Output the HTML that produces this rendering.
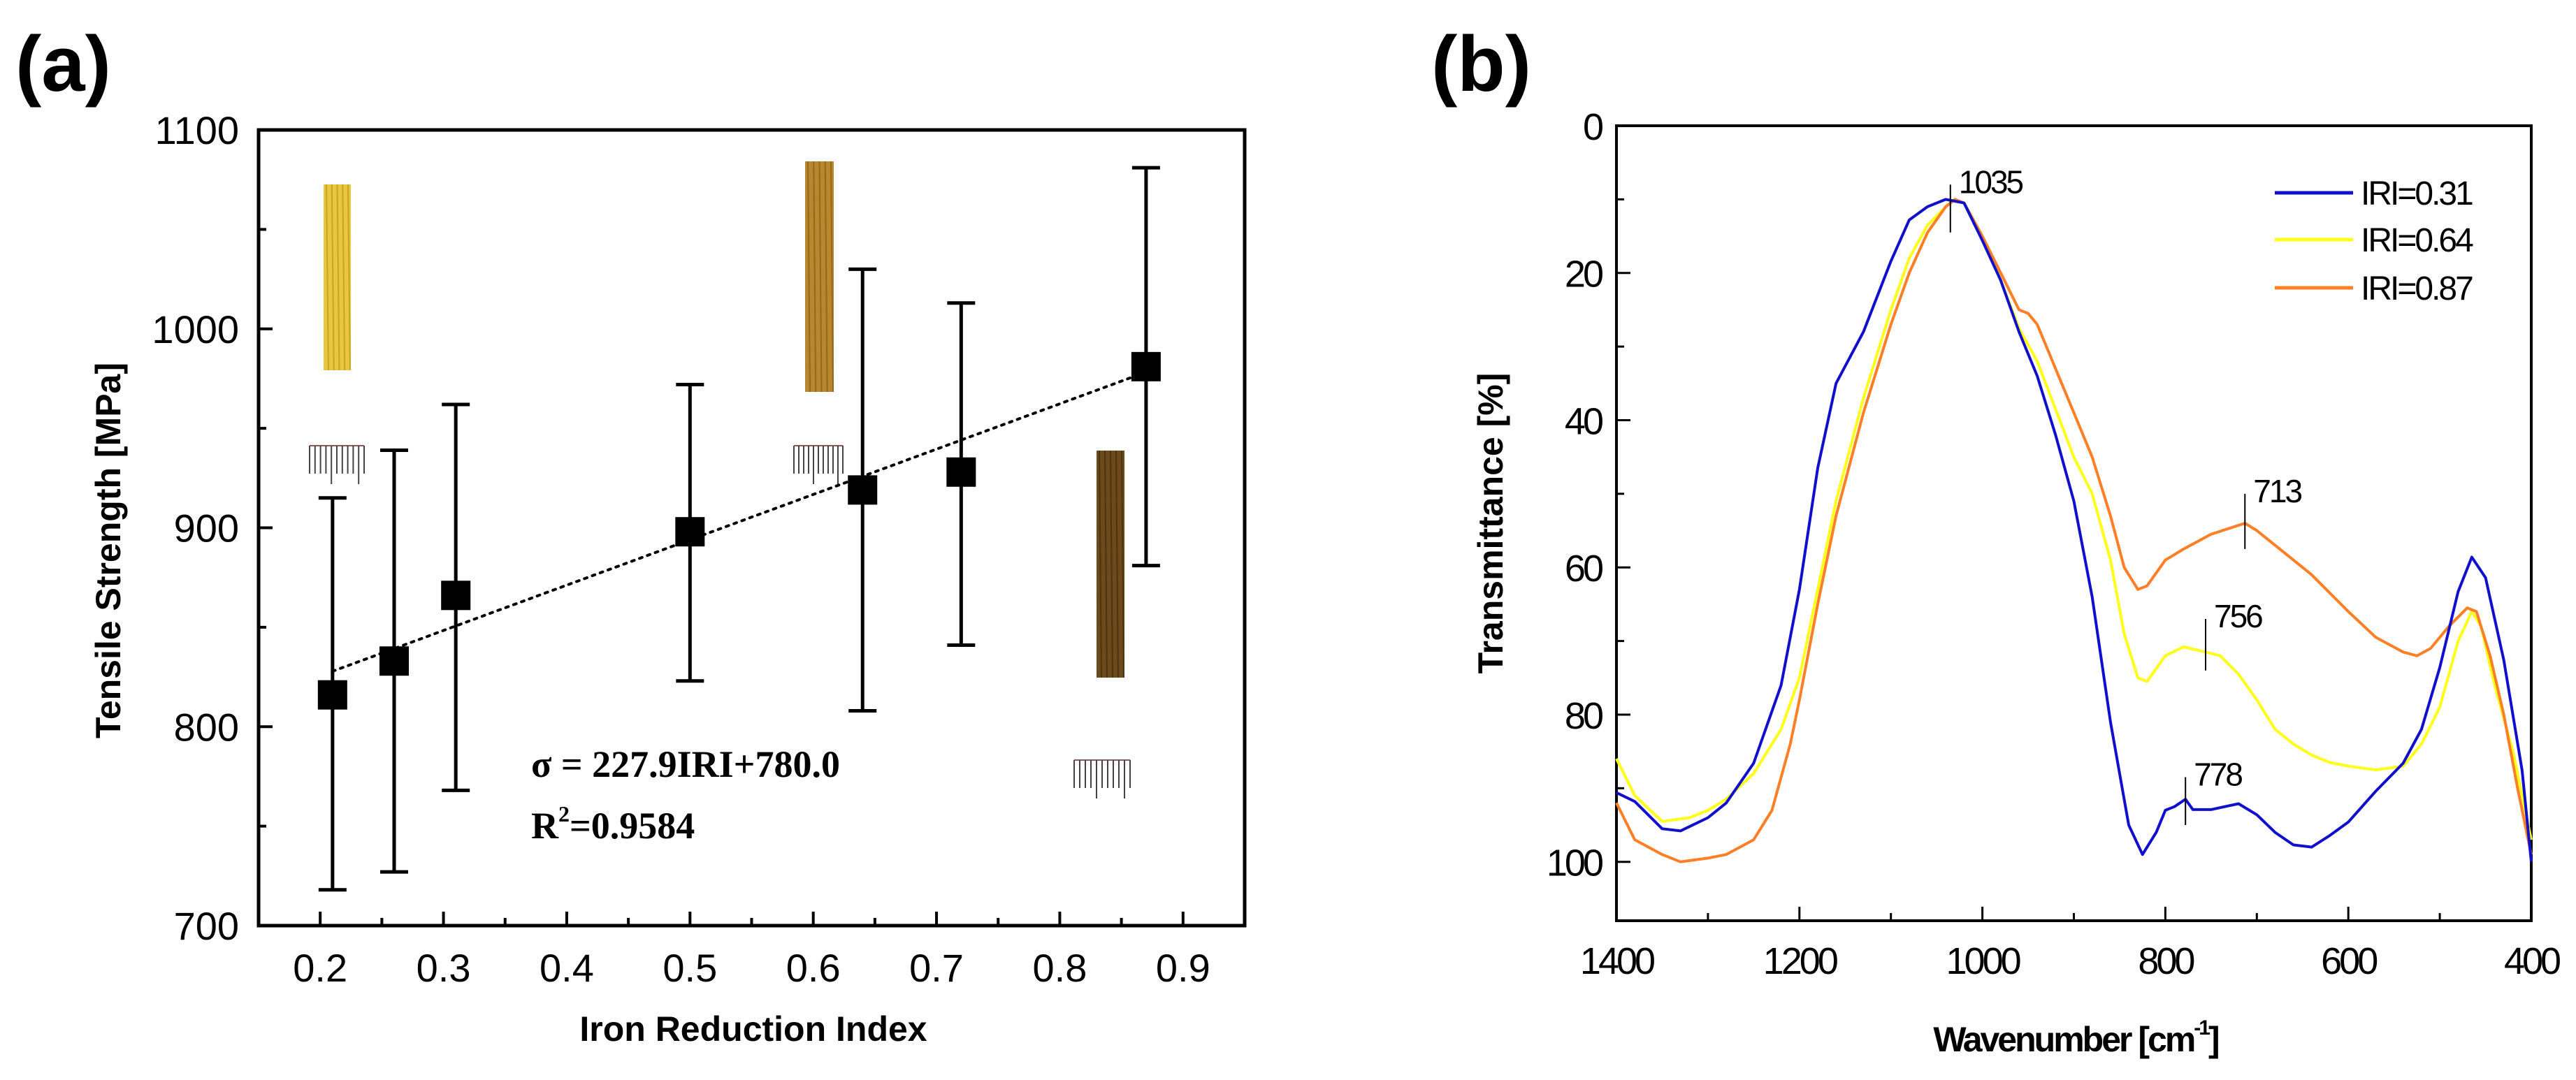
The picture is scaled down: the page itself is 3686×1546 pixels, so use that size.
<!DOCTYPE html>
<html><head><meta charset="utf-8"><style>
html,body{margin:0;padding:0;background:#fff;}
svg{display:block;}
</style></head><body>
<svg id="fig" width="3686" height="1546" viewBox="0 0 3686 1546" xmlns="http://www.w3.org/2000/svg">
<text x="22" y="130" font-family="Liberation Sans, sans-serif" font-weight="bold" font-size="112">(a)</text>
<text x="2048" y="130" font-family="Liberation Sans, sans-serif" font-weight="bold" font-size="112">(b)</text>
<g id="pa"></g>
<g id="pb"></g>
</svg>
<script>
// ---------- Panel (a) data ----------
const iriValues = [0.21, 0.26, 0.31, 0.5, 0.64, 0.72, 0.87];
const strengthValues = [816, 833, 866, 898, 919, 928, 981];
const errUpper = [915, 939, 962, 972, 1030, 1013, 1081];
const errLower = [718, 727, 768, 823, 808, 841, 881];
const fitSlope = 227.9, fitIntercept = 780.0;
const aXTicks = [0.2, 0.3, 0.4, 0.5, 0.6, 0.7, 0.8, 0.9];
const aYTicks = [700, 800, 900, 1000, 1100];

// ---------- Panel (b) data ----------
const waveBlue = [1400,1380,1350,1330,1300,1280,1250,1220,1200,1180,1160,1130,1100,1080,1060,1040,1020,1000,980,960,940,920,900,880,860,840,825,810,800,790,778,770,750,720,700,680,660,640,620,600,570,540,520,500,480,465,450,430,410,400];
const transBlue = [90.6,91.8,95.5,95.8,94,92,86.6,76,63,46.5,35,28,18.4,12.8,11,10,10.5,15.6,21,28,34,42,51,64,81,95,99,96,93,92.5,91.5,92.9,92.9,92.1,93.6,96,97.7,98,96.4,94.6,90.4,86.6,82,73.6,63.3,58.6,61.4,72.6,87.6,100];
const waveYellow = [1400,1380,1350,1320,1300,1280,1250,1220,1200,1180,1160,1130,1100,1080,1060,1040,1030,1020,1000,980,960,940,920,900,880,860,845,830,820,800,780,756,740,720,700,680,660,640,620,600,570,540,520,500,480,465,455,440,420,400];
const transYellow = [86,91,94.5,94,93,91.5,88,82,75,63,51,37,25,18,13.5,11,10,10.5,15,21,27.5,32,38.5,45,50,59,69,75,75.5,72,70.8,71.5,72,74.5,78,82,84,85.5,86.5,87,87.5,87,84,79,70,66,68,76,85,97];
const waveOrange = [1400,1380,1350,1330,1300,1280,1250,1230,1210,1200,1180,1160,1130,1100,1080,1060,1040,1030,1020,1000,980,960,950,940,920,900,880,860,845,830,820,800,780,750,713,700,680,660,640,620,600,570,540,525,510,490,470,460,445,430,415,400];
const transOrange = [92,97,99,100,99.5,99,97,93,84,78,65,53,39,27,20,14.5,11,10,10.5,15,20,25,25.5,27,33,39,45,53,60,63,62.5,59,57.5,55.5,54,55,57,59,61,63.5,66,69.5,71.5,72,71,68,65.5,66,72,80,90,99];
const peakWaves = [1035, 713, 756, 778];
const peakLow = [8, 50, 67, 88.5];
const peakHigh = [14.5, 57.5, 74, 95];
const seriesLabels = ["IRI=0.31", "IRI=0.64", "IRI=0.87"];
const bXTicks = [1400, 1200, 1000, 800, 600, 400];
const bYTicks = [0, 20, 40, 60, 80, 100];

const NS = "http://www.w3.org/2000/svg";
function mk(parent, tag, attrs, txt) {
  const e = document.createElementNS(NS, tag);
  for (const k in attrs) e.setAttribute(k, attrs[k]);
  if (txt !== undefined) e.textContent = txt;
  parent.appendChild(e);
  return e;
}
const SANS = "Liberation Sans, sans-serif";

// ================= Panel A =================
const pa = document.getElementById('pa');
const aL = 370, aR = 1781, aT = 186, aB = 1325;
const ax = v => aL + (v - 0.15) / (0.95 - 0.15) * (aR - aL);
const ay = v => aB - (v - 700) / (1100 - 700) * (aB - aT);

function fibre(x, y, w, h, c1, c2, name) {
  const g = mk(pa, 'g', {});
  
  
  mk(g, 'rect', {x: x, y: y, width: w, height: h, fill: c1});
  for (let i = 0; i < 5; i++) mk(g, 'line', {x1: x + 4 + i * (w - 8) / 4, y1: y, x2: x + 4 + i * (w - 8) / 4 + 3, y2: y + h, stroke: c2, 'stroke-width': 2, opacity: 0.6});
}
fibre(463, 264, 39, 266, '#e8c640', '#b58f10', 'fibre-image-1');
fibre(1152, 231, 41, 330, '#b8862e', '#7a5510', 'fibre-image-2');
fibre(1569, 645, 40, 325, '#6b4a1c', '#3a2508', 'fibre-image-3');
function scalebar(x, y, w, name) {
  const g = mk(pa, 'g', {});
  
  
  mk(g, 'line', {x1: x, y1: y, x2: x + w, y2: y, stroke: '#8a5a5a', 'stroke-width': 2});
  for (let i = 0; i <= 10; i++) {
    const xx = x + i * w / 10;
    const len = (i === 4 || i === 9) ? 55 : 40;
    mk(g, 'line', {x1: xx, y1: y, x2: xx, y2: y + len, stroke: '#444', 'stroke-width': 2});
  }
}
scalebar(443, 638, 78, 'scale-bar-1');
scalebar(1136, 638, 70, 'scale-bar-2');
scalebar(1537, 1088, 80, 'scale-bar-3');

const fa = mk(pa, 'rect', {x: aL, y: aT, width: aR - aL, height: aB - aT, fill: 'none', stroke: '#000', 'stroke-width': 5});


for (const t of aXTicks) {
  mk(pa, 'line', {x1: ax(t), y1: aB, x2: ax(t), y2: aB - 20, stroke: '#000', 'stroke-width': 4});
  mk(pa, 'line', {x1: ax(t + 0.05), y1: aB, x2: ax(t + 0.05), y2: aB - 11, stroke: '#000', 'stroke-width': 4});
  const lb = mk(pa, 'text', {x: ax(t), y: aB + 80, 'text-anchor': 'middle', 'font-family': SANS, 'font-size': 56}, t.toFixed(1));
  
  
}
for (const t of aYTicks) {
  mk(pa, 'line', {x1: aL, y1: ay(t), x2: aL + 20, y2: ay(t), stroke: '#000', 'stroke-width': 4});
  if (t < 1100) mk(pa, 'line', {x1: aL, y1: ay(t + 50), x2: aL + 11, y2: ay(t + 50), stroke: '#000', 'stroke-width': 4});
  const lb = mk(pa, 'text', {x: aL - 28, y: ay(t) + 20, 'text-anchor': 'end', 'font-family': SANS, 'font-size': 56}, String(t));
  
  
}
const x0 = iriValues[0], x1 = iriValues[iriValues.length - 1];
const fit = mk(pa, 'line', {x1: ax(x0), y1: ay(fitSlope * x0 + fitIntercept), x2: ax(x1), y2: ay(fitSlope * x1 + fitIntercept), stroke: '#000', 'stroke-width': 4, 'stroke-dasharray': '4 8', 'stroke-linecap': 'round'});


iriValues.forEach((v, i) => {
  const g = mk(pa, 'g', {});
  
  
  const X = ax(v);
  mk(g, 'line', {x1: X, y1: ay(errUpper[i]), x2: X, y2: ay(errLower[i]), stroke: '#000', 'stroke-width': 5});
  mk(g, 'line', {x1: X - 20, y1: ay(errUpper[i]), x2: X + 20, y2: ay(errUpper[i]), stroke: '#000', 'stroke-width': 5});
  mk(g, 'line', {x1: X - 20, y1: ay(errLower[i]), x2: X + 20, y2: ay(errLower[i]), stroke: '#000', 'stroke-width': 5});
  mk(g, 'rect', {x: X - 21, y: ay(strengthValues[i]) - 21, width: 42, height: 42, fill: '#000'});
});
const eq = mk(pa, 'text', {x: 760, y: 1112, 'font-family': 'Liberation Serif, serif', 'font-weight': 'bold', 'font-size': 54}, 'σ  = 227.9IRI+780.0');


const r2 = mk(pa, 'text', {x: 760, y: 1200, 'font-family': 'Liberation Serif, serif', 'font-weight': 'bold', 'font-size': 54});


r2.innerHTML = 'R<tspan dy="-24" font-size="32">2</tspan><tspan dy="24">=0.9584</tspan>';
const axt = mk(pa, 'text', {x: 1078, y: 1490, 'text-anchor': 'middle', 'font-family': SANS, 'font-weight': 'bold', 'font-size': 50}, 'Iron Reduction Index');


const ayt = mk(pa, 'text', {x: 0, y: 0, 'text-anchor': 'middle', 'font-family': SANS, 'font-weight': 'bold', 'font-size': 50, transform: 'translate(172,788) rotate(-90)'}, 'Tensile Strength [MPa]');



// ================= Panel B =================
const pb = document.getElementById('pb');
const bL = 2313, bR = 3622, bT = 180, bB = 1318;
const bx = v => bL + (1400 - v) / 1000 * (bR - bL);
const by = v => bT + v / 108 * (bB - bT);

const fb = mk(pb, 'rect', {x: bL, y: bT, width: bR - bL, height: bB - bT, fill: 'none', stroke: '#000', 'stroke-width': 4});


for (const t of bXTicks) {
  mk(pb, 'line', {x1: bx(t), y1: bB, x2: bx(t), y2: bB - 20, stroke: '#000', 'stroke-width': 3});
  if (t > 400) mk(pb, 'line', {x1: bx(t - 100), y1: bB, x2: bx(t - 100), y2: bB - 11, stroke: '#000', 'stroke-width': 3});
  const lb = mk(pb, 'text', {x: bx(t), y: bB + 76, 'text-anchor': 'middle', 'font-family': SANS, 'font-size': 54, 'letter-spacing': '-4'}, String(t));
  
  
}
for (const t of bYTicks) {
  mk(pb, 'line', {x1: bL, y1: by(t), x2: bL + 20, y2: by(t), stroke: '#000', 'stroke-width': 3});
  if (t < 100) mk(pb, 'line', {x1: bL, y1: by(t + 10), x2: bL + 11, y2: by(t + 10), stroke: '#000', 'stroke-width': 3});
  const lb = mk(pb, 'text', {x: bL - 22, y: by(t) + 20, 'text-anchor': 'end', 'font-family': SANS, 'font-size': 54, 'letter-spacing': '-4'}, String(t));
  
  
}
function curve(ws, ts, color, name) {
  const d = ws.map((w, i) => (i ? 'L' : 'M') + bx(w).toFixed(1) + ' ' + by(ts[i]).toFixed(1)).join(' ');
  const p = mk(pb, 'path', {d: d, fill: 'none', stroke: color, 'stroke-width': 4, 'stroke-linejoin': 'round'});
  
  
}
curve(waveYellow, transYellow, '#ffff1a', 'series-iri-0.64');
curve(waveOrange, transOrange, '#ff7f27', 'series-iri-0.87');
curve(waveBlue, transBlue, '#1010cc', 'series-iri-0.31');
peakWaves.forEach((w, i) => {
  const g = mk(pb, 'g', {});
  
  
  mk(g, 'line', {x1: bx(w), y1: by(peakLow[i]), x2: bx(w), y2: by(peakHigh[i]), stroke: '#000', 'stroke-width': 2});
  mk(g, 'text', {x: bx(w) + 12, y: by(peakLow[i]) + 12, 'font-family': SANS, 'font-size': 46, 'letter-spacing': '-3'}, String(w));
});
const legColors = ['#1010cc', '#ffff1a', '#ff7f27'];
const legY = [276, 343, 412];
seriesLabels.forEach((s, i) => {
  const g = mk(pb, 'g', {});
  
  
  mk(g, 'line', {x1: 3255, y1: legY[i], x2: 3367, y2: legY[i], stroke: legColors[i], 'stroke-width': 5});
  mk(g, 'text', {x: 3378, y: legY[i] + 17, 'font-family': SANS, 'font-size': 48, 'letter-spacing': '-3'}, s);
});
const bxt = mk(pb, 'text', {x: 2970, y: 1505, 'text-anchor': 'middle', 'font-family': SANS, 'font-weight': 'bold', 'font-size': 50, 'letter-spacing': '-3'});


bxt.innerHTML = 'Wavenumber [cm<tspan dy="-24" font-size="30">-1</tspan><tspan dy="24">]</tspan>';
const byt = mk(pb, 'text', {x: 0, y: 0, 'text-anchor': 'middle', 'font-family': SANS, 'font-weight': 'bold', 'font-size': 50, transform: 'translate(2150,749) rotate(-90)'}, 'Transmittance [%]');


</script>
</body></html>
